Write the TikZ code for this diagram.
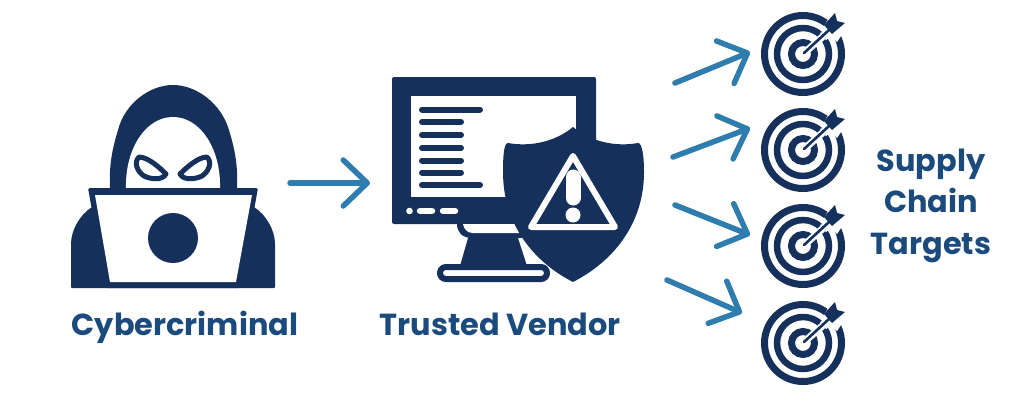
\documentclass[tikz,border=0pt]{standalone}
\usepackage{fontspec}
\setmainfont{Poppins}
\usetikzlibrary{arrows.meta}
\definecolor{navy}{HTML}{15305B}
\definecolor{labelblue}{HTML}{1B4A7C}
\definecolor{arrowblue}{HTML}{2F7DAE}
\tikzset{
  icon/.style={fill=navy, draw=none},
  hole/.style={fill=white, draw=none},
  barline/.style={navy, line width=6pt, line cap=round},
  caption/.style={text=labelblue, font=\fontsize{30.4}{41.5}\selectfont\bfseries, align=center, inner sep=0pt},
  flow/.style={arrowblue, line width=5.5pt, line cap=round, -{Straight Barb[round, length=24pt, width=46pt, line width=5.5pt]}},
}
% one target, centre at the origin of the scope
\newcommand{\bullseye}[2]{%
\begin{scope}[shift={(#1,#2)}]
  \draw[navy, line width=7pt] (0,0) circle (38.5pt);
  \draw[navy, line width=6.5pt] (0,0) circle (26pt);
  \draw[navy, line width=7pt] (0,0) circle (11.5pt);
  \draw[white, line width=7pt] (0,0) -- (34,-30);
  \draw[white, line width=9pt] (20,-17) -- (40,-37);
  \fill[white] (19,-25) -- (31,-44) -- (46,-30) -- (34,-12) -- cycle;
  \draw[navy, line width=2.6pt, line cap=round] (1,-1) -- (26,-24);
  \fill[navy] (21,-29) -- (32,-41) -- (34,-33) -- (42,-31) -- (29,-20) -- cycle;
\end{scope}}
\begin{document}
\begin{tikzpicture}[x=1pt, y=-1pt]
\useasboundingbox (0,0) rectangle (1031,400);
% hacker
\fill[icon] (110,188) .. controls (109,165) and (112,150) .. (118,130)
  .. controls (125,103) and (150,85) .. (173,85)
  .. controls (196,85) and (221,103) .. (229,130)
  .. controls (235,150) and (238,165) .. (237,188) -- cycle;
\fill[hole] (126,188) .. controls (125,150) and (145,117) .. (173,117)
  .. controls (201,117) and (221,150) .. (220,188) -- cycle;
\draw[navy, line width=5pt, line join=round, fill=white] (139,157) .. controls (148,157) and (160,168) .. (166,174)
  .. controls (162,181) and (150,179) .. (144,176) .. controls (138,172) and (133,163) .. (139,157) -- cycle;
\draw[navy, line width=5pt, line join=round, fill=white] (207,157) .. controls (198,157) and (186,168) .. (180,174)
  .. controls (184,181) and (196,179) .. (202,176) .. controls (208,172) and (213,163) .. (207,157) -- cycle;
\fill[icon, rounded corners=1pt] (71,288) -- (71,245) .. controls (71,230) and (80,215) .. (92,207)
  -- (254,207) .. controls (266,215) and (275,230) .. (275,245) -- (275,288) -- cycle;
\fill[icon, rounded corners=1.5pt] (88,188) -- (258,188) -- (240,288) -- (106,288) -- cycle;
\fill[hole] (95,195) -- (252,195) -- (236,282) -- (110,282) -- cycle;
\fill[icon] (173,238) circle (25pt);
% monitor
\fill[icon, rounded corners=2pt] (392,77) rectangle (596,224);
\fill[hole] (411,96) rectangle (576,197);
\foreach \ypos/\xend in {109.5/480, 122/461, 135/461, 148/461, 160.5/461, 172.5/461, 185/480}
  \draw[barline] (422,\ypos) -- (\xend,\ypos);
\fill[white] (409.5,211) circle (3.3pt);
\draw[white, line width=6.5pt, line cap=round] (420,211) -- (432,211);
\draw[white, line width=6.5pt, line cap=round] (443,211) -- (455,211);
% stand
\fill[icon] (457,224) .. controls (457,232) and (462,238) .. (472,238) -- (522,238) -- (522,224) -- cycle;
\fill[hole] (463,224) .. controls (464,229) and (467,233) .. (473,233) -- (519,233) -- (518,224) -- cycle;
\fill[icon] (468,238) -- (518,238) -- (527,266) -- (460,266) -- cycle;
\fill[hole] (520,238) -- (527,238) -- (541,264) -- (533,264) -- cycle;
\draw[navy, line width=6pt, fill=white, rounded corners=6pt] (440,267) rectangle (547,279);
% shield
\fill[icon] (508,143) .. controls (530,147) and (555,142) .. (573,127)
  .. controls (591,142) and (616,147) .. (638,143)
  .. controls (642,143) and (644,155) .. (644,172)
  .. controls (644,225) and (612,262) .. (573,282)
  .. controls (534,262) and (503,225) .. (503,172)
  .. controls (503,155) and (504,143) .. (508,143) -- cycle;
\draw[white, line width=6pt, line join=round] (573,156) -- (531,227) -- (615,227) -- cycle;
\draw[white, line width=15pt, line cap=round] (573,177) -- (573,198);
\fill[white] (573,215) circle (7.5pt);
% targets
\bullseye{803}{54}
\bullseye{803}{150}
\bullseye{803}{246}
\bullseye{803}{343}
% connectors
\coordinate (hackerend) at (290,183);
\coordinate (vendorend) at (370,183);
\draw[flow] (hackerend) -- (vendorend);
\coordinate (a1) at (675,83);
\coordinate (b1) at (750,52);
\coordinate (a2) at (673,157);
\coordinate (b2) at (750,128);
\coordinate (a3) at (675,205);
\coordinate (b3) at (750,235);
\coordinate (a4) at (667,280);
\coordinate (b4) at (742,313);
\foreach \n in {1,...,4}
  \draw[flow] (a\n) -- (b\n);
% labels
\node[caption, anchor=base] (hackerlabel) at (185,335) {Cybercriminal};
\node[caption, anchor=base] (vendorlabel) at (500.5,335) {Trusted Vendor};
\node[caption] (targetlabel) at (931,205.5) {Supply\\Chain\\Targets};
\end{tikzpicture}
\end{document}
